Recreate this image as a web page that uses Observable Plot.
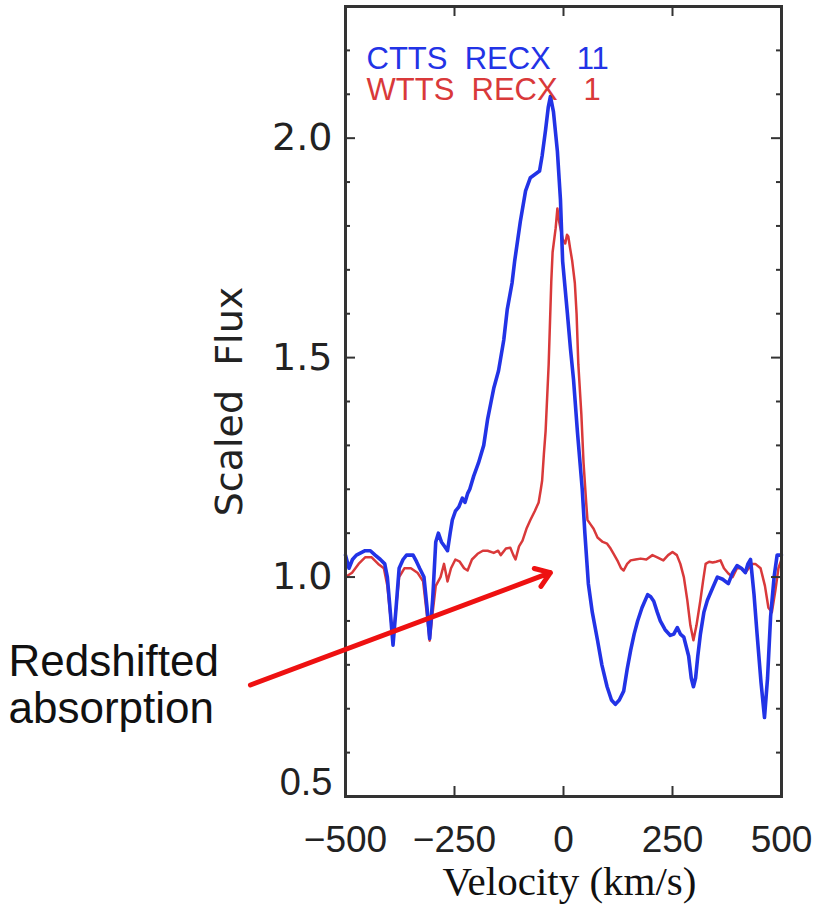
<!DOCTYPE html>
<html>
<head>
<meta charset="utf-8">
<script src="https://cdn.jsdelivr.net/npm/d3@7"></script>
<script src="https://cdn.jsdelivr.net/npm/@observablehq/plot@0.6"></script>
<style>
  html, body { margin: 0; padding: 0; background: #fff; }
  #chart svg text { white-space: pre; }
</style>
</head>
<body>
<div id="chart"></div>
<script>
// CTTS RECX 11 (blue)
const cttsVelocity = [-500,-492,-484,-475,-465,-455,-443,-432,-420,-410,-404,-398,-391,-384,-377,-368,-360,-352,-345,-337,-330,-320,-313,-307,-300,-293,-287,-280,-273,-266,-260,-255,-248,-240,-232,-226,-220,-215,-206,-195,-183,-174,-166,-160,-149,-137,-129,-118,-112,-99,-87,-76,-62,-55,-49,-41,-35,-30,-23,-14,-7,-2,9,16,23,32,43,49,57,66,78,88,100,110,119,128,138,146,154,162,170,180,193,200,207,215,222,233,245,253,261,268,276,287,293,298,303,308,314,322,330,342,353,365,378,388,398,408,417,423,429,437,444,453,461,468,475,483,490,500];
const cttsFlux =     [1.05,1.02,1.04,1.05,1.055,1.06,1.06,1.05,1.04,1.03,1.0,0.93,0.845,0.93,1.02,1.04,1.05,1.05,1.05,1.035,1.02,1.0,0.93,0.86,0.95,1.08,1.10,1.08,1.07,1.06,1.10,1.13,1.15,1.16,1.18,1.17,1.19,1.20,1.23,1.26,1.30,1.36,1.40,1.43,1.47,1.54,1.61,1.67,1.72,1.81,1.88,1.91,1.92,1.925,1.96,2.02,2.07,2.095,2.06,1.97,1.86,1.72,1.60,1.52,1.45,1.33,1.20,1.10,0.985,0.92,0.856,0.80,0.75,0.72,0.71,0.72,0.74,0.79,0.833,0.87,0.90,0.93,0.96,0.955,0.945,0.92,0.90,0.88,0.867,0.87,0.885,0.87,0.863,0.82,0.77,0.75,0.77,0.82,0.87,0.92,0.947,0.975,1.0,0.995,0.985,1.01,1.026,1.02,1.01,1.03,1.04,0.96,0.87,0.76,0.68,0.77,0.91,1.0,1.05,1.05];

// WTTS RECX 1 (red)
const wttsVelocity = [-500,-485,-470,-455,-440,-425,-412,-404,-398,-391,-384,-377,-365,-350,-335,-322,-314,-307,-300,-293,-282,-274,-266,-258,-248,-238,-228,-220,-210,-197,-185,-174,-160,-150,-144,-132,-122,-115,-110,-102,-94,-85,-76,-66,-57,-52,-49,-45,-41,-34,-28,-25,-18,-14,-10,-7,-2,4,8,11,15,20,26,30,34,41,46,52,55,62,69,78,90,100,108,115,125,132,138,146,154,165,177,190,204,215,229,240,250,260,268,276,284,291,298,305,314,320,326,334,342,350,360,368,378,388,398,408,417,425,432,440,452,462,470,478,486,493,500];
const wttsFlux =     [1.0,1.01,1.03,1.045,1.045,1.03,1.02,0.98,0.92,0.86,0.93,1.0,1.02,1.02,1.01,0.99,0.92,0.855,0.92,0.98,1.0,1.03,0.99,1.02,1.04,1.035,1.02,1.015,1.04,1.053,1.06,1.06,1.055,1.06,1.05,1.065,1.067,1.05,1.04,1.07,1.083,1.11,1.13,1.15,1.17,1.20,1.22,1.28,1.333,1.485,1.674,1.74,1.795,1.84,1.81,1.795,1.77,1.76,1.78,1.776,1.75,1.72,1.67,1.60,1.485,1.37,1.26,1.17,1.13,1.12,1.11,1.09,1.08,1.076,1.065,1.053,1.035,1.02,1.015,1.03,1.038,1.04,1.042,1.04,1.05,1.045,1.038,1.05,1.057,1.05,1.03,1.0,0.947,0.89,0.856,0.89,0.947,0.99,1.03,1.035,1.033,1.035,1.038,1.02,1.008,1.0,1.02,1.02,1.01,1.02,1.03,1.03,1.02,0.98,0.93,0.92,0.97,1.02,1.04];

// axis tick values
const xTickLabels = [-500, -250, 0, 250, 500];
const xMajorTicks = [-250, 0, 250];
const yMajorTicks = [0.5, 1.0, 1.5, 2.0];
const yMinorTicks = [0.6,0.7,0.8,0.9,1.1,1.2,1.3,1.4,1.6,1.7,1.8,1.9,2.1,2.2];

// legend labels
const seriesLabels = ["CTTS  RECX   11", "WTTS  RECX   1"];
// annotation arrow (velocity, flux) tail -> head
const arrowTail = [-718, 0.754];
const arrowHead = [-30, 1.01];

const ctts = cttsVelocity.map((v, i) => ({v, f: cttsFlux[i]}));
const wtts = wttsVelocity.map((v, i) => ({v, f: wttsFlux[i]}));

const blue = "#2233e6";
const red = "#d9393a";
const axisColor = "#333";
const sans = "'Liberation Sans', Arial, Helvetica, sans-serif";

const W = 818, H = 924, mL = 345, mR = 37, mT = 6, mB = 128;
const fw = W - mL - mR, fh = H - mT - mB;
const major = 10, minor = 5;
const fmtX = d => d < 0 ? "\u2212" + Math.abs(d) : String(d);
const fmtY = d3.format(".1f");

const chart = Plot.plot({
  width: W,
  height: H,
  marginLeft: mL,
  marginRight: mR,
  marginTop: mT,
  marginBottom: mB,
  style: {fontFamily: sans, fontSize: "38px", color: "#222", background: "#fff"},
  x: {domain: [-500, 500]},
  y: {domain: [0.5, 2.3]},
  marks: [
    Plot.line(wtts, {x: "v", y: "f", stroke: red, strokeWidth: 2.5}),
    Plot.line(ctts, {x: "v", y: "f", stroke: blue, strokeWidth: 3.6}),
    Plot.frame({stroke: axisColor, strokeWidth: 3}),
    // inward ticks
    Plot.tickX(xMajorTicks, {x: d => d, insetTop: fh - major, stroke: axisColor, strokeWidth: 2}),
    Plot.tickX(xMajorTicks, {x: d => d, insetBottom: fh - major, stroke: axisColor, strokeWidth: 2}),
    Plot.tickY(yMajorTicks, {y: d => d, insetRight: fw - major, stroke: axisColor, strokeWidth: 2}),
    Plot.tickY(yMajorTicks, {y: d => d, insetLeft: fw - major, stroke: axisColor, strokeWidth: 2}),
    Plot.tickY(yMinorTicks, {y: d => d, insetRight: fw - minor, stroke: axisColor, strokeWidth: 2}),
    Plot.tickY(yMinorTicks, {y: d => d, insetLeft: fw - minor, stroke: axisColor, strokeWidth: 2}),
    // tick labels
    Plot.axisX({anchor: "bottom", ticks: xTickLabels, tickSize: 0, tickPadding: 29, label: null, fontSize: 37, tickFormat: fmtX}),
    Plot.axisY({anchor: "left", ticks: yMajorTicks.filter(d => d > 0.5), tickSize: 0, tickPadding: 13, fontSize: 38, tickFormat: fmtY,
      label: "Scaled  Flux", labelAnchor: "center", labelOffset: 130, labelArrow: "none", fontFamily: "'DejaVu Sans', sans-serif"}),
    Plot.axisY({anchor: "left", ticks: yMajorTicks.filter(d => d === 0.5), tickSize: 0, tickPadding: 13, fontSize: 38, tickFormat: fmtY, dy: -14, label: null}),
    // x title
    Plot.text(["Velocity (km/s)"], {frameAnchor: "bottom", dx: 6, dy: 98, text: d => d, fontSize: 41, fontFamily: "'Liberation Serif', 'Times New Roman', serif", fill: "#111"}),
    // legend
    Plot.text([seriesLabels[0]], {frameAnchor: "top-left", dx: 21, dy: 40, text: d => d, textAnchor: "start", fontSize: 31, fill: blue}),
    Plot.text([seriesLabels[1]], {frameAnchor: "top-left", dx: 21, dy: 71, text: d => d, textAnchor: "start", fontSize: 31, fill: red}),
    // annotation
    Plot.arrow([{x1: arrowTail[0], y1: arrowTail[1], x2: arrowHead[0], y2: arrowHead[1]}], {x1: "x1", y1: "y1", x2: "x2", y2: "y2", stroke: "#ee1111", strokeWidth: 5, headLength: 5, headAngle: 70, clip: false}),
    Plot.text(["Redshifted\nabsorption"], {frameAnchor: "top-left", dx: -337, dy: 636, text: d => d, textAnchor: "start", lineAnchor: "top", lineHeight: 1.07, fontSize: 44, fill: "#111"})
  ]
});
document.getElementById("chart").appendChild(chart);
</script>
</body>
</html>
